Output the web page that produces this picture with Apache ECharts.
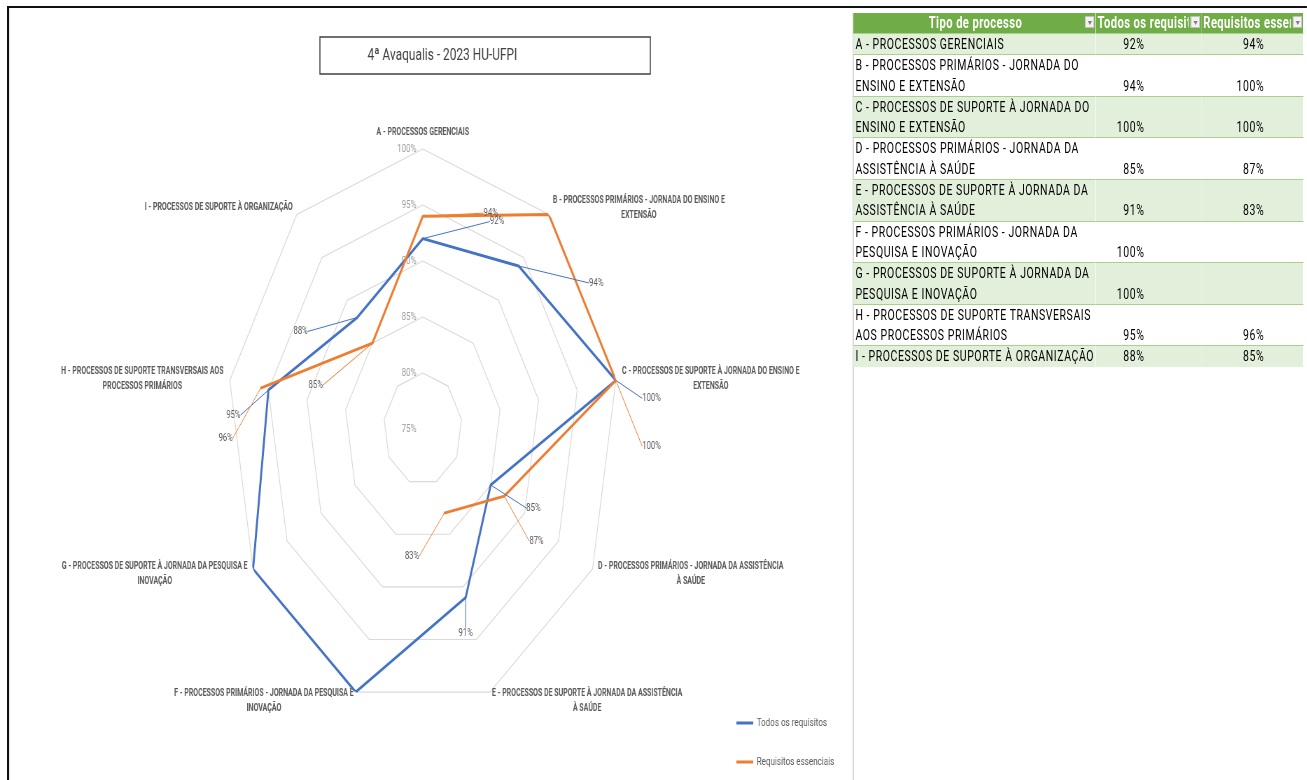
<!DOCTYPE html>
<html><head><meta charset="utf-8">
<script src="https://cdn.jsdelivr.net/npm/echarts@6/dist/echarts.min.js"></script>
<style>
html,body{margin:0;padding:0;background:#fff;overflow:hidden;width:1307px;height:780px;}
#wrap{position:absolute;left:0;top:0;width:1867px;height:780px;transform:scaleX(0.7);transform-origin:0 0;}
.bk{position:absolute;background:#111;}
.gl{position:absolute;background:#d9d9d9;}
#chart{position:absolute;left:0;top:0;width:1214px;height:780px;}
#tbl{position:absolute;left:1219px;top:13px;border-collapse:collapse;table-layout:fixed;width:643px;font-family:Roboto,"Liberation Sans",sans-serif;font-size:15px;letter-spacing:0.8px;color:#000;}
#tbl th{background:#70AD47;color:#fff;font-weight:bold;font-size:16px;letter-spacing:0.6px;height:20px;padding:0;position:relative;line-height:20px;white-space:nowrap;overflow:hidden;}
#tbl th .ht{display:block;overflow:hidden;margin-right:18px;text-align:left;padding-left:3px;}
#tbl th.h1 .ht{text-align:center;margin-right:0;}
#tbl th .dd{position:absolute;right:2px;top:3px;width:13px;height:12px;background:#f2f2f2;border:1px solid #bfbfbf;box-sizing:border-box;}
#tbl th .dd:after{content:"";position:absolute;left:3px;top:4px;border-left:3px solid transparent;border-right:3px solid transparent;border-top:4px solid #7f7f7f;}
#tbl td{border-top:1px solid #A9D08E;padding:0 3px;line-height:20.3px;vertical-align:bottom;white-space:nowrap;overflow:hidden;}
#tbl tr.g td{background:#E2EFDA;}
#tbl td.v{text-align:right;padding-right:81px;}
#tbl td.v3{padding-right:56px;}
</style></head><body>
<div id="wrap">
  <div class="bk" style="left:10px;top:6px;width:1857px;height:2px"></div>
  <div class="bk" style="left:10px;top:6px;width:3px;height:774px"></div>
  <div class="gl" style="left:1218px;top:13px;width:1.5px;height:767px"></div>
  <div id="chart"></div>
  <table id="tbl">
    <colgroup><col style="width:346px"><col style="width:151px"><col style="width:146px"></colgroup>
    <tbody id="tb"></tbody>
  </table>
</div>
<script>
// ---- data ----
const categories = [
  'A - PROCESSOS GERENCIAIS',
  'B - PROCESSOS PRIMÁRIOS - JORNADA DO ENSINO E EXTENSÃO',
  'C - PROCESSOS DE SUPORTE À JORNADA DO ENSINO E EXTENSÃO',
  'D - PROCESSOS PRIMÁRIOS - JORNADA DA ASSISTÊNCIA À SAÚDE',
  'E - PROCESSOS DE SUPORTE À JORNADA DA ASSISTÊNCIA À SAÚDE',
  'F - PROCESSOS PRIMÁRIOS - JORNADA DA PESQUISA E INOVAÇÃO',
  'G - PROCESSOS DE SUPORTE À JORNADA DA PESQUISA E INOVAÇÃO',
  'H - PROCESSOS DE SUPORTE TRANSVERSAIS AOS PROCESSOS PRIMÁRIOS',
  'I - PROCESSOS DE SUPORTE À ORGANIZAÇÃO'
];
const todosRequisitos = [92, 94, 100, 85, 91, 100, 100, 95, 88];
const requisitosEssenciais = [94, 100, 100, 87, 83, null, null, 96, 85];
const seriesNames = ['Todos os requisitos', 'Requisitos essenciais'];
const tableHeaders = ['Tipo de processo', 'Todos os requisitos', 'Requisitos essenciais'];
const chartTitle = '4ª Avaqualis - 2023 HU-UFPI';
const axisMin = 75, axisMax = 100, axisStep = 5;

// ---- layout / style (label offsets in px, not data) ----
const labelOffsets = {
  todos: [[106,-17],[111,17],[51,18],[61,23],[0,36],[-141,-15],[-57,-15],[-50,25],[-81,14]],
  essenciais: [[97,-3],[107,40],[51,66],[46,45],[-46,43],null,null,[-50,50],[-81,42]]
};
const BLUE = '#4472C4', ORANGE = '#ED7D31';
const FONT = 'Roboto, "Liberation Sans", sans-serif';
const CX = 604, CY = 429, R = 280;

function wrapText(s, maxChars) {
  const words = s.split(' ');
  const lines = []; let cur = '';
  words.forEach(w => {
    const t = cur ? cur + ' ' + w : w;
    if (t.length > maxChars && cur) { lines.push(cur); cur = w; } else { cur = t; }
  });
  if (cur) lines.push(cur);
  return lines;
}
const pct = v => (v == null ? '' : v + '%');

// ---- table ----
(function () {
  let html = '<tr>' + tableHeaders.map((h, i) =>
    `<th class="h${i + 1}"><span class="ht">${h}</span><span class="dd"></span></th>`).join('') + '</tr>';
  categories.forEach((c, i) => {
    html += `<tr class="${i % 2 === 0 ? 'g' : 'w'}"><td>${wrapText(c, 38).join('<br>')}</td>` +
      `<td class="v">${pct(todosRequisitos[i])}</td><td class="v v3">${pct(requisitosEssenciais[i])}</td></tr>`;
  });
  document.getElementById('tb').innerHTML = html;
})();

// ---- chart ----
const n = categories.length;
// radar draws counter-clockwise; reorder so categories go clockwise from top
const radarOrder = categories.map((_, k) => (n - k) % n);

function polarData(vals) {
  const d = vals.map((v, i) => ({ value: [v == null ? '-' : v, i] }));
  d.push({ value: [vals[0] == null ? '-' : vals[0], n], label: { show: false }, labelLine: { show: false } });
  return d;
}

function lineSeries(name, vals, color, offs) {
  return {
    type: 'line', name: name, coordinateSystem: 'polar', polarIndex: 0,
    data: polarData(vals), connectNulls: false,
    showSymbol: true, symbol: 'circle', symbolSize: 2,
    lineStyle: { color: color, width: 2.9 }, itemStyle: { color: color },
    label: {
      show: true, position: 'inside', fontSize: 11, color: '#595959', fontFamily: FONT,
      formatter: p => p.value[0] + '%'
    },
    labelLine: { show: true, lineStyle: { color: color, width: 1 } },
    labelLayout: p => {
      const o = offs[p.dataIndex];
      return o ? { dx: o[0], dy: o[1] } : {};
    },
    emphasis: { disabled: true },
    z: 3
  };
}

const chart = echarts.init(document.getElementById('chart'), null, { renderer: 'canvas' });
chart.setOption({
  animation: false,
  backgroundColor: 'transparent',
  title: {
    text: chartTitle, left: 457, top: 37,
    padding: [10, 190, 10, 68],
    borderColor: '#404040', borderWidth: 1.5,
    textStyle: { fontSize: 17, fontWeight: 'normal', color: '#404040', fontFamily: FONT }
  },
  legend: {
    orient: 'vertical', left: 1047, top: 712, itemGap: 27,
    icon: 'rect', itemWidth: 24, itemHeight: 3,
    data: seriesNames,
    textStyle: { fontSize: 11.5, color: '#595959', fontFamily: FONT }
  },
  radar: {
    center: [CX, CY], radius: R, startAngle: 90, shape: 'polygon', splitNumber: (axisMax - axisMin) / axisStep,
    indicator: radarOrder.map(i => ({ name: categories[i], min: axisMin, max: axisMax })),
    nameGap: 9,
    axisName: {
      formatter: name => wrapText(name, 49).map(l => '{c|' + l + '}').join('\n'),
      rich: { c: { align: 'center', fontSize: 10, fontWeight: 'bold', color: '#595959', fontFamily: FONT, lineHeight: 15 } }
    },
    axisLine: { show: false }, axisTick: { show: false }, axisLabel: { show: false },
    splitArea: { show: false },
    splitLine: { lineStyle: { color: '#d9d9d9', width: 1.2 } }
  },
  polar: { center: [CX, CY], radius: R },
  angleAxis: { type: 'value', min: 0, max: n, startAngle: 90, clockwise: true, show: false },
  radiusAxis: {
    type: 'value', min: axisMin, max: axisMax, interval: axisStep,
    axisLine: { show: false }, axisTick: { show: false }, splitLine: { show: false },
    axisLabel: { formatter: '{value}%', fontSize: 11.5, color: '#999999', margin: 9, fontFamily: FONT }
  },
  series: [
    lineSeries(seriesNames[0], todosRequisitos, BLUE, labelOffsets.todos),
    lineSeries(seriesNames[1], requisitosEssenciais, ORANGE, labelOffsets.essenciais)
  ]
});
</script>
</body></html>
